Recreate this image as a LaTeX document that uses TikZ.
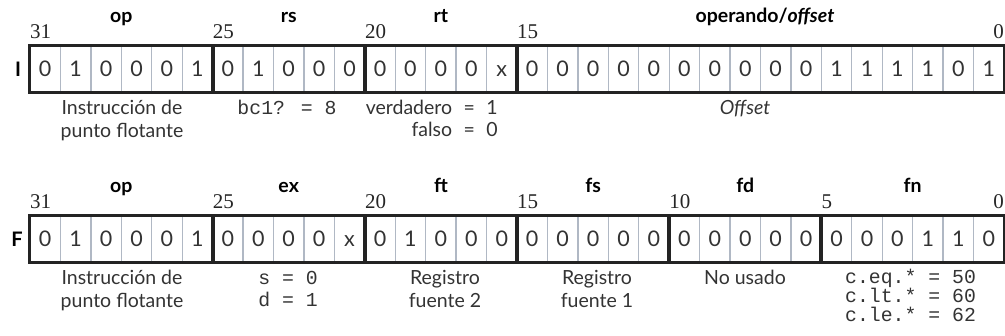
\documentclass[tikz,border=0pt]{standalone}
\usepackage{fontspec}
\setmainfont{Lato}
\newfontfamily\numfont{Liberation Serif}
\newfontfamily\monofont{Liberation Mono}
\usetikzlibrary{fit}
\definecolor{cellgray}{RGB}{176,184,196}
\definecolor{boxblack}{RGB}{35,35,35}
\newcommand{\wideeq}{\hspace{6.5pt} = \hspace{6.5pt}}
\tikzset{
  cell/.style={draw=cellgray, line width=1.3pt, minimum width=30.4375pt, minimum height=46pt,
    inner sep=0pt, text height=15pt, text depth=0pt, font=\fontsize{21.5}{22}\selectfont, text=black!80},
  field/.style={draw=boxblack, line width=2.8pt, inner sep=0pt},
  bitnum/.style={font=\numfont\fontsize{21}{22}\selectfont, inner sep=0pt, text=black!85},
  fname/.style={font=\bfseries\fontsize{19.5}{20}\selectfont, inner sep=0pt, anchor=base},
  rowname/.style={font=\bfseries\fontsize{20}{20}\selectfont, inner sep=0pt, anchor=base},
  desc/.style={font=\fontsize{19.5}{20}\selectfont, inner sep=0pt, anchor=base, text=black!80},
  mono/.style={font=\monofont\fontsize{19.8}{20}\selectfont, inner sep=0pt, anchor=base, text=black!80}
}
\begin{document}
\begin{tikzpicture}[x=1pt,y=-1pt]
\useasboundingbox (0,0) rectangle (1005,336);
% ---------- Row I ----------
\foreach \b [count=\i from 0] in {0,1,0,0,0,1, 0,1,0,0,0, 0,0,0,0,x, 0,0,0,0,0,0,0,0,0,0,1,1,1,1,0,1}
  \node[cell] (I\i) at ({30+15.21875+30.4375*\i},69) {\b};
\node[field, fit=(I0)(I5)] (Iop) {};
\node[field, fit=(I6)(I10)] (Irs) {};
\node[field, fit=(I11)(I15)] (Irt) {};
\node[field, fit=(I16)(I31)] (Ioff) {};
\node[rowname] (Ilab) at (18,77) {I};
% bit numbers
\node[bitnum, anchor=base west] (In31) at (30,39) {31};
\node[bitnum, anchor=base west] (In25) at (212.6,39) {25};
\node[bitnum, anchor=base west] (In20) at (364.8,39) {20};
\node[bitnum, anchor=base west] (In15) at (517,39) {15};
\node[bitnum, anchor=base east] (In0) at (1004,39) {0};
% field names
\node[fname] (Ifop) at (121.3,23) {op};
\node[fname] (Ifrs) at (288.7,23) {rs};
\node[fname] (Ifrt) at (440.9,23) {rt};
\node[fname] (Ifoff) at (765,23) {operando/\textit{offset}};
% descriptions
\node[desc] (Id1a) at (122,115) {Instrucción de};
\node[desc] (Id1b) at (122,138) {punto flotante};
\node[mono] (Id2) at (287,115) {bc1? = 8};
\node[desc, anchor=base east] (Id3a) at (498,115) {verdadero\wideeq 1};
\node[desc, anchor=base east] (Id3b) at (498,137) {falso\wideeq 0};
\node[desc] (Id4) at (745,115) {\itshape Offset};
% ---------- Row F ----------
\foreach \b [count=\i from 0] in {0,1,0,0,0,1, 0,0,0,0,x, 0,1,0,0,0, 0,0,0,0,0, 0,0,0,0,0, 0,0,0,1,1,0}
  \node[cell] (F\i) at ({30+15.21875+30.4375*\i},239) {\b};
\node[field, fit=(F0)(F5)] (Fop) {};
\node[field, fit=(F6)(F10)] (Fex) {};
\node[field, fit=(F11)(F15)] (Fft) {};
\node[field, fit=(F16)(F20)] (Ffs) {};
\node[field, fit=(F21)(F25)] (Ffd) {};
\node[field, fit=(F26)(F31)] (Ffn) {};
\node[rowname] (Flab) at (17,247) {F};
% bit numbers
\node[bitnum, anchor=base west] (Fn31) at (30,209) {31};
\node[bitnum, anchor=base west] (Fn25) at (212.6,209) {25};
\node[bitnum, anchor=base west] (Fn20) at (364.8,209) {20};
\node[bitnum, anchor=base west] (Fn15) at (517,209) {15};
\node[bitnum, anchor=base west] (Fn10) at (669.2,209) {10};
\node[bitnum, anchor=base west] (Fn5) at (821.4,209) {5};
\node[bitnum, anchor=base east] (Fn0) at (1004,209) {0};
% field names
\node[fname] (Ffop) at (121.3,193) {op};
\node[fname] (Ffex) at (288.7,193) {ex};
\node[fname] (Ffft) at (440.9,193) {ft};
\node[fname] (Fffs) at (593.1,193) {fs};
\node[fname] (Fffd) at (745.3,193) {fd};
\node[fname] (Fffn) at (912.7,193) {fn};
% descriptions
\node[desc] (Fd1a) at (122,285) {Instrucción de};
\node[desc] (Fd1b) at (122,308) {punto flotante};
\node[mono] (Fd2a) at (288,285) {s = 0};
\node[mono] (Fd2b) at (288,307) {d = 1};
\node[desc] (Fd3a) at (445,285) {Registro};
\node[desc] (Fd3b) at (445,308) {fuente 2};
\node[desc] (Fd4a) at (597,285) {Registro};
\node[desc] (Fd4b) at (597,308) {fuente 1};
\node[desc] (Fd5) at (745,285) {No usado};
\node[mono, anchor=base west] (Fd6a) at (845,284) {c.eq.* = 50};
\node[mono, anchor=base west] (Fd6b) at (845,303) {c.lt.* = 60};
\node[mono, anchor=base west] (Fd6c) at (845,322) {c.le.* = 62};
\end{tikzpicture}
\end{document}
